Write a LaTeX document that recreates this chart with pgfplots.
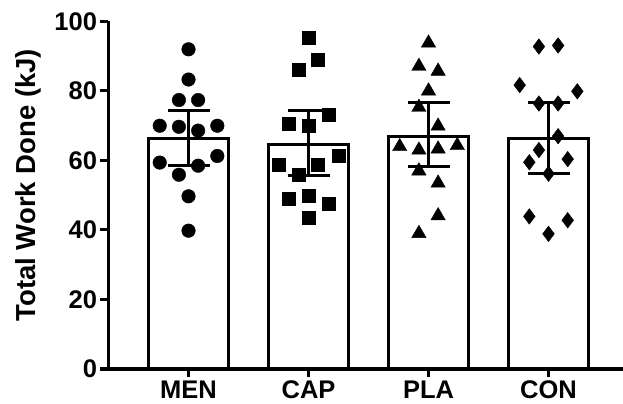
\documentclass[border=0pt]{standalone}
\usepackage{pgfplots}
\pgfplotsset{compat=1.18}
\usepackage{fontspec}
\setmainfont{Liberation Sans}
\begin{document}
\begin{tikzpicture}
\useasboundingbox (-108.5bp,-35bp) rectangle (514.5bp,369bp);
\begin{axis}[
  scale only axis,
  width=515bp, height=347.5bp,
  xmin=-0.667, xmax=3.625,
  ymin=0, ymax=100,
  axis lines=left,
  axis line style={-, line width=3.5bp},
  xtick={0,1,2,3},
  xticklabels={MEN,CAP,PLA,CON},
  ytick={0,20,40,60,80,100},
  tick align=outside,
  major tick length=8bp,
  tick style={line width=3bp, black},
  ticklabel style={font=\fontsize{25.5bp}{28bp}\selectfont\bfseries},
  /pgf/number format/assume math mode=true,
  ylabel={Total Work Done (kJ)},
  ylabel style={font=\fontsize{27.5bp}{30bp}\selectfont\bfseries, yshift=6bp, xshift=10bp},
  clip=false,
]
\addplot[ybar, bar width=0.667, fill=white, draw=black, line width=3bp,
  error bars/.cd, y dir=both, y explicit,
  error bar style={line width=3bp, black},
  error mark options={line width=3bp, black, mark size=21bp, rotate=90}]
  coordinates {
  (0,66.4) +=(0,8.1) -=(0,7.7)
  (1,64.5) +=(0,9.8) -=(0,8.9)
  (2,66.9) +=(0,9.9) -=(0,8.6)
  (3,66.4) +=(0,10.4) -=(0,10.0)
  };
\addplot[only marks, mark=*, mark size=6.8bp, black] coordinates {
  (0,92.0) (0,83.3) (-0.08,77.4) (0.08,77.4)
  (-0.24,70.0) (-0.08,69.7) (0.08,68.6) (0.24,70.0)
  (-0.24,59.4) (-0.08,55.9) (0.08,58.5) (0.24,61.3)
  (0,49.7) (0,39.8)
  };
\addplot[only marks, mark=square*, mark size=6.5bp, black] coordinates {
  (1,95.3) (1.08,89.0) (0.917,86.1)
  (1.167,73.1) (0.833,70.5) (1,69.9)
  (1.25,61.3) (0.75,58.7) (1.08,58.7) (0.917,55.9)
  (0.833,49.0) (1,49.9) (1.167,47.6) (1,43.5)
  };
\addplot[only marks, mark=triangle*, mark size=8.3bp, black] coordinates {
  (2,93.8) (1.92,87.1) (2.08,85.7) (2,80.0)
  (1.92,75.3) (2.08,69.9)
  (1.76,64.0) (1.92,63.0) (2.08,63.3) (2.24,64.3)
  (1.92,57.0) (2.08,53.5) (2.08,44.1) (1.92,39.0)
  };
\addplot[only marks, mark=diamond*, mark size=7.8bp, black] coordinates {
  (2.92,92.8) (3.08,93.1) (2.76,81.7) (3.24,79.9)
  (2.92,76.4) (3.08,76.4) (3.08,67.0) (2.92,63.0)
  (2.84,59.5) (3.16,60.4) (3,56.2)
  (2.84,43.9) (3.16,42.8) (3,38.9)
  };
\end{axis}
\end{tikzpicture}
\end{document}
